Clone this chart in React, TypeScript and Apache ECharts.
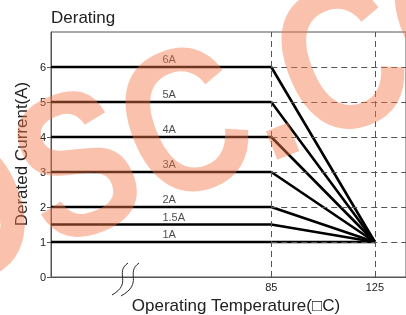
import React, { useEffect, useRef } from "react";
import * as echarts from "echarts";

const ratingCurrents = [6, 5, 4, 3, 2, 1.5, 1];
const ratingLabels = ["6A", "5A", "4A", "3A", "2A", "1.5A", "1A"];
const kneeTemp = 85;
const endTemp = 125;
const endCurrent = 1;
const labelTemp = 43;
const xTickValues = [85, 125];
const yTickValues = [0, 1, 2, 3, 4, 5, 6];
const gridYValues = [1, 2, 3, 4, 5, 6];
const xMin = 0;
const xMax = 137;
const yMax = 7;

const FONT = "'Liberation Sans', Arial, sans-serif";

export default function App() {
  const ref = useRef<HTMLDivElement>(null);
  useEffect(() => {
    if (!ref.current) return;
    const chart = echarts.init(ref.current, null, { renderer: "svg" });

    const series: any[] = ratingCurrents.map((v, i) => ({
      type: "line",
      name: ratingLabels[i],
      symbol: "none",
      silent: true,
      z: 3,
      lineStyle: { color: "#000", width: 2.6 },
      data: [
        [xMin, v],
        [kneeTemp, v],
        [endTemp, endCurrent],
      ],
    }));

    series.push({
      type: "scatter",
      silent: true,
      z: 4,
      symbol: "circle",
      symbolSize: 1,
      itemStyle: { color: "rgba(0,0,0,0)" },
      label: {
        show: true,
        position: "top",
        align: "left",
        distance: 2,
        formatter: (p: any) => p.value[2],
        fontFamily: FONT,
        fontSize: 11,
        color: "#1a1a1a",
      },
      data: ratingCurrents.map((v, i) => [labelTemp, v, ratingLabels[i]]),
    });

    series.push({
      type: "line",
      data: [],
      silent: true,
      z: 1,
      markLine: {
        silent: true,
        symbol: "none",
        label: { show: false },
        lineStyle: { color: "#555", width: 1, type: [6, 4] },
        data: [
          { xAxis: kneeTemp },
          { xAxis: endTemp },
          ...gridYValues.map((y) => [{ coord: [kneeTemp, y] }, { coord: [xMax, y] }]),
        ],
      },
    });

    chart.setOption({
      animation: false,
      grid: {
        left: 51,
        right: -1,
        top: 32,
        bottom: 38,
        show: true,
        borderColor: "#555",
        borderWidth: 1,
      },
      xAxis: {
        type: "value",
        min: xMin,
        max: xMax,
        axisLine: { lineStyle: { color: "#555", width: 1 } },
        axisTick: { show: false },
        splitLine: { show: false },
        axisLabel: {
          customValues: xTickValues,
          fontFamily: FONT,
          fontSize: 11,
          color: "#222",
          margin: 4,
        },
      },
      yAxis: {
        type: "value",
        min: 0,
        max: yMax,
        interval: 1,
        axisLine: { show: true, lineStyle: { color: "#555", width: 1 } },
        axisTick: { show: true, length: 4, customValues: yTickValues, lineStyle: { color: "#555" } },
        splitLine: { show: false },
        axisLabel: {
          customValues: yTickValues,
          fontFamily: FONT,
          fontSize: 11,
          color: "#222",
          margin: 5,
        },
      },
      series,
      graphic: [
        {
          type: "text",
          left: 51,
          top: 9,
          style: { text: "Derating", font: `17px ${FONT}`, fill: "#222" },
        },
        {
          type: "text",
          x: 21,
          y: 154,
          rotation: Math.PI / 2,
          style: {
            text: "Derated Current(A)",
            font: `17px ${FONT}`,
            fill: "#222",
            align: "center",
            verticalAlign: "middle",
          },
        },
        {
          type: "text",
          x: 236,
          y: 305,
          style: {
            text: "Operating Temperature(□C)",
            font: `17px ${FONT}`,
            fill: "#222",
            align: "center",
            verticalAlign: "middle",
          },
        },
        {
          type: "bezierCurve",
          z: 10,
          shape: { x1: 128, y1: 263, cpx1: 114, cpy1: 273, cpx2: 133, cpy2: 283, x2: 112, y2: 295 },
          style: { stroke: "#222", lineWidth: 1, fill: "none" },
        },
        {
          type: "bezierCurve",
          z: 10,
          shape: { x1: 139, y1: 263, cpx1: 125, cpy1: 273, cpx2: 144, cpy2: 283, x2: 121, y2: 296 },
          style: { stroke: "#222", lineWidth: 1, fill: "none" },
        },
        {
          type: "text",
          z: 100,
          x: 210,
          y: 110,
          rotation: 0.38,
          scaleY: 1.22,
          silent: true,
          style: {
            text: "OSC.CO",
            font: `bold 168px ${FONT}`,
            fill: "rgba(245,120,70,0.45)",
            align: "center",
            verticalAlign: "middle",
          },
        },
      ],
    });
    return () => chart.dispose();
  }, []);
  return <div ref={ref} style={{ position: "fixed", left: 0, top: 0, width: 406, height: 315 }} />;
}
